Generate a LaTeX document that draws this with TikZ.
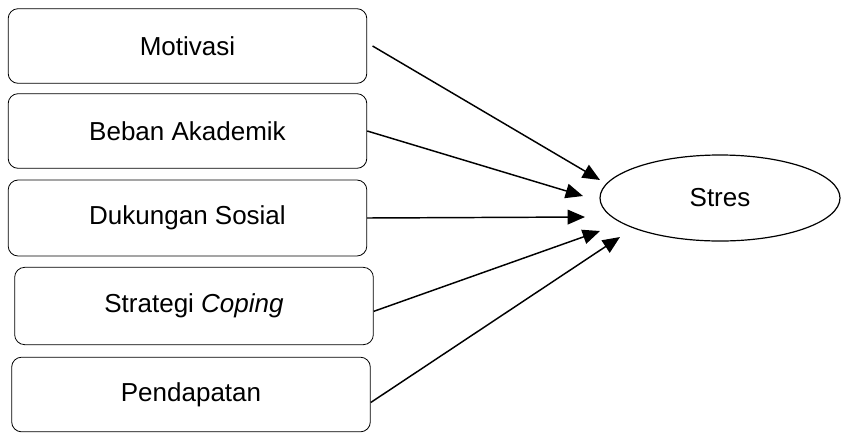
\documentclass[tikz,border=0pt]{standalone}
\usepackage{fontspec}
\setmainfont{Liberation Sans}
\usetikzlibrary{arrows.meta, shapes.geometric}

\begin{document}
\begin{tikzpicture}[
    x=0.75pt, y=-0.75pt,
    >={Triangle[length=13pt, width=11pt]},
    box/.style={draw, rounded corners=7.5pt, line width=0.6pt, minimum width=269pt, minimum height=56pt},
    link/.style={->, line width=1.1pt},
    every node/.style={font=\fontsize{19.5}{23}\selectfont}
  ]
  \useasboundingbox (0,0) rectangle (841,433);

  % Independent variables
  \node[box] (mot) at (187.5,46)  {Motivasi};
  \node[box] (beb) at (187.5,131) {Beban Akademik};
  \node[box, minimum height=57pt] (duk) at (187.5,218) {Dukungan Sosial};
  \node[box, minimum height=58pt] (str) at (194,306)  {Strategi \textit{Coping}};
  \node[box] (pen) at (191,394.5) {Pendapatan};

  % Dependent variable
  \node[draw, ellipse, line width=0.9pt, minimum width=180pt, minimum height=64.5pt] (sts) at (720,198) {Stres};

  % Arrow ends
  \coordinate (t1) at (600,180);
  \coordinate (t2) at (583,196);
  \coordinate (t3) at (585,217);
  \coordinate (t4) at (600,231);
  \coordinate (t5) at (620,237);

  % Arrows
  \draw[link] ([xshift=4pt]mot.east) -- (t1);
  \draw[link] (beb.east) -- (t2);
  \draw[link] (duk.east) -- (t3);
  \draw[link] ([yshift=-4pt]str.east) -- (t4);
  \draw[link] ([yshift=-6pt]pen.east) -- (t5);
\end{tikzpicture}
\end{document}
